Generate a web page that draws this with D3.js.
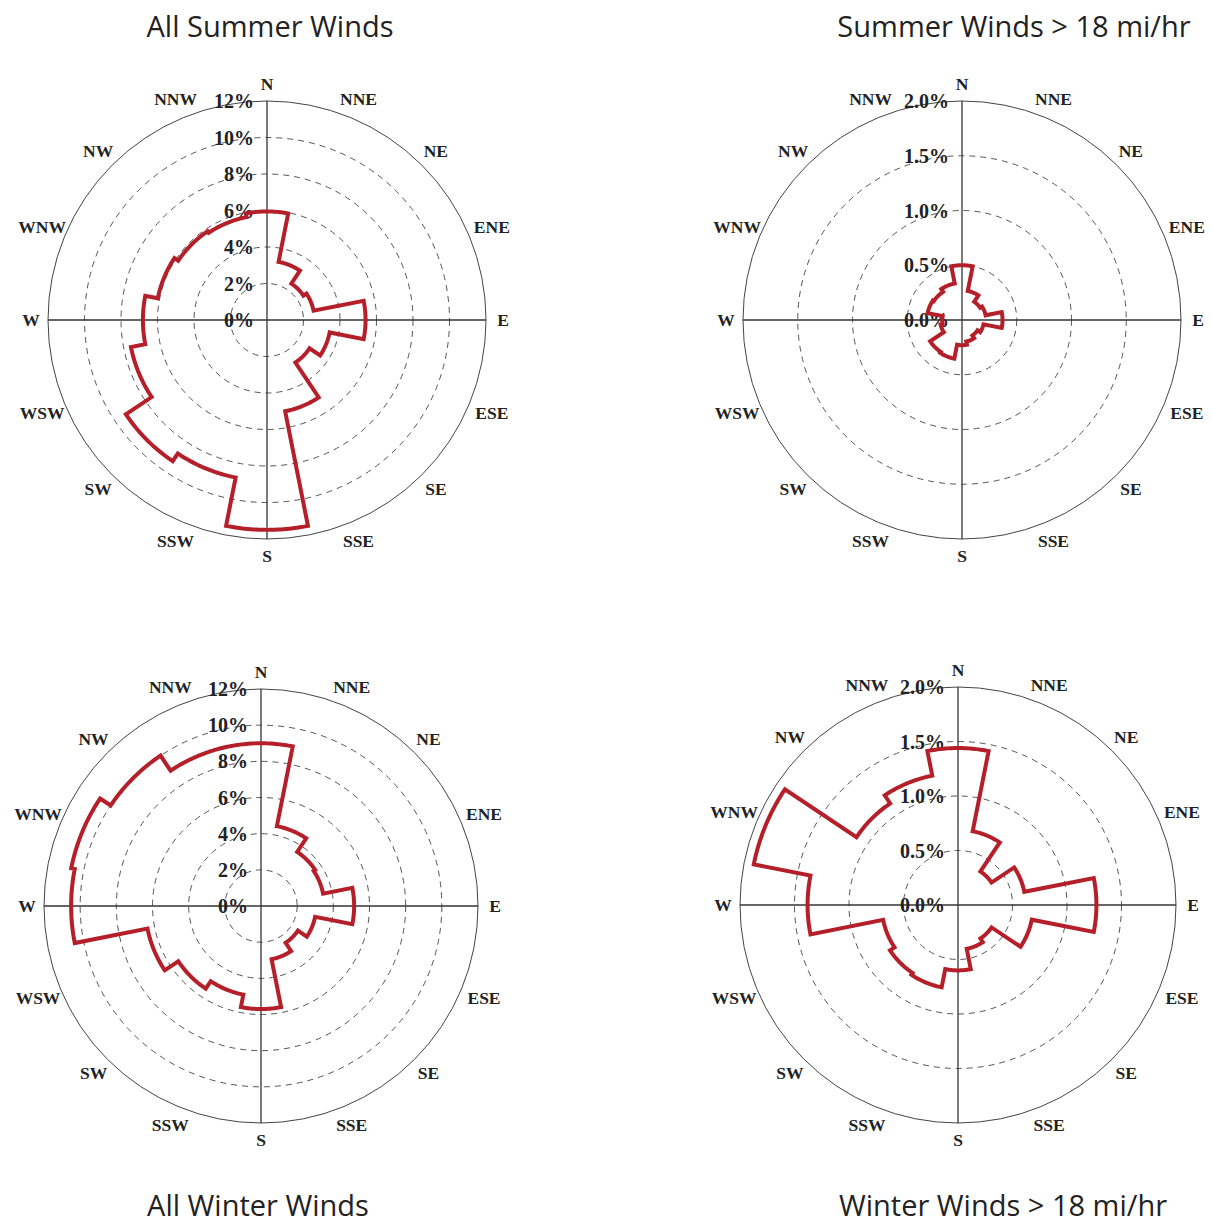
<!DOCTYPE html>
<html>
<head>
<meta charset="utf-8">
<script src="https://cdn.jsdelivr.net/npm/d3@7"></script>
<style>
  body { margin: 0; background: #fff; }
  .title { font-family: "Open Sans", sans-serif; font-size: 29px; fill: #222; }
  .dir-label { font-family: "Liberation Serif", "Times New Roman", serif; font-weight: bold; font-size: 17.5px; fill: #222; }
  .tick-label { font-family: "Liberation Serif", "Times New Roman", serif; font-weight: bold; font-size: 20px; fill: #222; }
</style>
</head>
<body>
<svg id="chart" width="1212" height="1224"></svg>
<script>
// compass directions (clockwise from N)
const directions = ['N','NNE','NE','ENE','E','ESE','SE','SSE','S','SSW','SW','WSW','W','WNW','NW','NNW'];

// % of time wind comes from each direction
const summerAll    = [5.95, 3.25, 2.4, 2.6, 5.4, 3.5, 2.8, 5.1, 11.5, 8.8, 9.3, 7.6, 6.8, 6.1, 5.85, 5.75];
const summerStrong = [0.50, 0.27, 0.20, 0.22, 0.37, 0.20, 0.17, 0.20, 0.23, 0.36, 0.35, 0.20, 0.18, 0.32, 0.31, 0.34];
const winterAll    = [9.0, 4.5, 3.6, 3.5, 5.15, 3.05, 2.45, 3.0, 5.7, 5.0, 5.5, 6.4, 10.5, 10.7, 10.0, 9.0];
const winterStrong = [1.44, 0.69, 0.37, 0.62, 1.27, 0.69, 0.37, 0.41, 0.60, 0.77, 0.75, 0.70, 1.38, 1.91, 1.12, 1.21];

// radial tick values
const allTicks    = [0, 2, 4, 6, 8, 10, 12];
const strongTicks = [0, 0.5, 1.0, 1.5, 2.0];

const titles = ['All Summer Winds', 'Summer Winds > 18 mi/hr', 'All Winter Winds', 'Winter Winds > 18 mi/hr'];

// panel layout
const panels = [
  {values: summerAll,    ticks: allTicks,    fmt: d => d3.format('d')(d) + '%',   cx: 267, cy: 320, r: 219, title: titles[0], tx: 270,  ty: 37},
  {values: summerStrong, ticks: strongTicks, fmt: d => d3.format('.1f')(d) + '%', cx: 962, cy: 320, r: 219, title: titles[1], tx: 1014, ty: 37},
  {values: winterAll,    ticks: allTicks,    fmt: d => d3.format('d')(d) + '%',   cx: 261, cy: 906, r: 217, title: titles[2], tx: 258,  ty: 1216},
  {values: winterStrong, ticks: strongTicks, fmt: d => d3.format('.1f')(d) + '%', cx: 958, cy: 905, r: 218, title: titles[3], tx: 1003, ty: 1216}
];

const svg = d3.select('#chart');

function drawRose(p){
  const g = svg.append('g').attr('transform', `translate(${p.cx},${p.cy})`);
  const maxTick = d3.max(p.ticks);
  const rScale = d3.scaleLinear().domain([0, maxTick]).range([0, p.r]);
  // sector index -> angle (radians, clockwise from north)
  const aScale = d3.scaleLinear().domain([0, directions.length]).range([0, 2 * Math.PI]);
  const half = Math.PI / directions.length;

  // dashed rings
  g.selectAll('.ring').data(p.ticks.filter(t => t > 0 && t < maxTick)).enter()
    .append('circle').attr('class', 'ring')
    .attr('r', d => rScale(d))
    .style('fill', 'none').style('stroke', '#555').style('stroke-width', 1)
    .style('stroke-dasharray', '6,5');
  // outer ring
  g.append('circle').attr('r', rScale(maxTick))
    .style('fill', 'none').style('stroke', '#444').style('stroke-width', 1);

  // cross axes
  [0, 4, 8, 12].forEach(i => {
    const a = aScale(i);
    g.append('line')
      .attr('x1', 0).attr('y1', 0)
      .attr('x2', rScale(maxTick) * Math.sin(a))
      .attr('y2', -rScale(maxTick) * Math.cos(a))
      .style('stroke', '#333').style('stroke-width', 1.3);
  });

  // tick labels up the north axis
  g.selectAll('.tick-label').data(p.ticks).enter()
    .append('text').attr('class', 'tick-label')
    .attr('x', -13).attr('y', d => -rScale(d))
    .attr('text-anchor', 'end').attr('dominant-baseline', 'central')
    .text(p.fmt);

  // compass labels
  const labelR = (d, i) => p.r + 17 + (d.length - 1) * Math.abs(Math.sin(aScale(i))) * 4;
  g.selectAll('.dir-label').data(directions).enter()
    .append('text').attr('class', 'dir-label')
    .attr('x', (d, i) => labelR(d, i) * Math.sin(aScale(i)))
    .attr('y', (d, i) => -labelR(d, i) * Math.cos(aScale(i)))
    .attr('text-anchor', 'middle').attr('dominant-baseline', 'central')
    .text(d => d);

  // rose outline: arc per sector, joined radially
  const pts = [];
  p.values.forEach((v, i) => {
    const a0 = aScale(i) - half, a1 = aScale(i) + half;
    const n = 30;
    for (let k = 0; k <= n; k++) pts.push({a: a0 + (a1 - a0) * k / n, v: v});
  });
  const line = d3.lineRadial()
    .angle(d => d.a)
    .radius(d => rScale(d.v))
    .curve(d3.curveLinearClosed);
  g.append('path')
    .attr('d', line(pts))
    .style('fill', 'none').style('stroke', '#b51f2a').style('stroke-width', 4)
    .style('stroke-linejoin', 'miter');

  // title
  svg.append('text').attr('class', 'title')
    .attr('x', p.tx).attr('y', p.ty)
    .attr('text-anchor', 'middle')
    .text(p.title);
}

panels.forEach(drawRose);
</script>
</body>
</html>
